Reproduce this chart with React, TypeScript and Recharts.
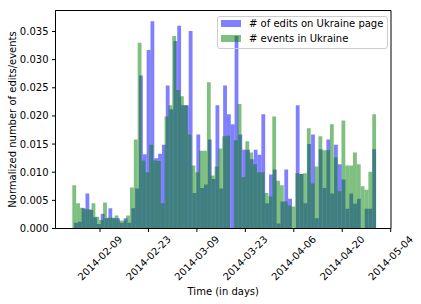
import React from 'react';
import { BarChart, Bar, XAxis, YAxis, ReferenceArea, Label } from 'recharts';

// days counted from 2014-02-01
const TICK_DAYS = [8, 22, 36, 50, 64, 78, 92];
const TICK_LABELS = ['2014-02-09', '2014-02-23', '2014-03-09', '2014-03-23', '2014-04-06', '2014-04-20', '2014-05-04'];
const Y_TICKS = [0, 0.005, 0.01, 0.015, 0.02, 0.025, 0.03, 0.035];

// normalized histogram heights, 79 bins each
const EVENTS = [
  0.0077, 0.0045, 0.0037, 0.0034, 0.0034, 0.0045, 0.0021, 0.0015, 0.0046, 0.0019,
  0.0019, 0.0023, 0.0014, 0.0014, 0.0023, 0.0073, 0.0158, 0.0330, 0.0121, 0.0100,
  0.0149, 0.0121, 0.0120, 0.0045, 0.0199, 0.0219, 0.0342, 0.0246, 0.0235, 0.0219,
  0.0167, 0.0112, 0.0100, 0.0138, 0.0138, 0.0260, 0.0094, 0.0110, 0.0142, 0.0164,
  0.0165, 0.0000, 0.0157, 0.0221, 0.0091, 0.0155, 0.0135, 0.0114, 0.0100, 0.0100,
  0.0063, 0.0057, 0.0199, 0.0085, 0.0077, 0.0048, 0.0041, 0.0039, 0.0098, 0.0097,
  0.0098, 0.0178, 0.0080, 0.0110, 0.0164, 0.0139, 0.0139, 0.0185, 0.0126, 0.0066,
  0.0192, 0.0112, 0.0112, 0.0135, 0.0114, 0.0075, 0.0069, 0.0101, 0.0203,
];
const EDITS = [
  0.0010, 0.0012, 0.0036, 0.0062, 0.0033, 0.0020, 0.0008, 0.0026, 0.0018, 0.0036,
  0.0018, 0.0018, 0.0010, 0.0018, 0.0010, 0.0036, 0.0071, 0.0272, 0.0132, 0.0317,
  0.0368, 0.0125, 0.0133, 0.0149, 0.0254, 0.0212, 0.0333, 0.0360, 0.0219, 0.0219,
  0.0351, 0.0063, 0.0167, 0.0072, 0.0078, 0.0158, 0.0088, 0.0219, 0.0071, 0.0254,
  0.0203, 0.0185, 0.0342, 0.0167, 0.0140, 0.0140, 0.0123, 0.0140, 0.0131, 0.0203,
  0.0045, 0.0096, 0.0105, 0.0009, 0.0048, 0.0105, 0.0053, 0.0000, 0.0219, 0.0097,
  0.0045, 0.0150, 0.0167, 0.0018, 0.0141, 0.0072, 0.0158, 0.0062, 0.0149, 0.0114,
  0.0087, 0.0035, 0.0062, 0.0044, 0.0053, 0.0000, 0.0035, 0.0035, 0.0141,
];

// histogram ranges in days
const EVENTS_RANGE = [0, 87.78];
const EDITS_RANGE = [0.49, 87.78];

const X_DOMAIN = [-4.86, 92.09];
const Y_MAX = 0.03873;

const W = 421;
const H = 304;
const MARGIN = { top: 10.5, right: 30, bottom: 0, left: 0.5 };
const Y_AXIS_W = 55;
const FONT = 'DejaVu Sans';

const plotW = W - MARGIN.left - MARGIN.right - Y_AXIS_W;
const pxPerDay = plotW / (X_DOMAIN[1] - X_DOMAIN[0]);
const eventsBin = (EVENTS_RANGE[1] - EVENTS_RANGE[0]) / EVENTS.length;
const editsBin = (EDITS_RANGE[1] - EDITS_RANGE[0]) / EDITS.length;

const rows = EVENTS.map((v, i) => ({
  tg: EVENTS_RANGE[0] + (i + 0.5) * eventsBin,
  events: v,
  tb: EDITS_RANGE[0] + (i + 0.5) * editsBin,
  edits: EDITS[i],
}));

const XTick = (props: any) => {
  const { x, payload } = props;
  const label = TICK_LABELS[TICK_DAYS.indexOf(payload.value)];
  return (
    <text
      transform={`translate(${x},258) rotate(-45)`}
      textAnchor="middle"
      dominantBaseline="central"
      fontSize={10}
      fontFamily={FONT}
      fill="#000"
    >
      {label}
    </text>
  );
};

const legendRow = (top: number, color: string, text: string) => (
  <>
    <div style={{ position: 'absolute', left: 3.5, top, width: 20, height: 7, background: color }} />
    <div
      style={{
        position: 'absolute',
        left: 31.5,
        top: top - 3,
        fontSize: 10,
        lineHeight: '13px',
        fontFamily: FONT,
        whiteSpace: 'nowrap',
        color: '#000',
      }}
    >
      {text}
    </div>
  </>
);

export default function App() {
  return (
    <div style={{ position: 'absolute', left: 0, top: 0, width: W, height: H, background: '#fff' }}>
      <BarChart width={W} height={H} data={rows} margin={MARGIN} barCategoryGap={0} barGap={0}>
        <XAxis xAxisId="g" type="number" dataKey="tg" domain={X_DOMAIN} allowDataOverflow hide height={0} />
        <XAxis xAxisId="b" type="number" dataKey="tb" domain={X_DOMAIN} allowDataOverflow hide height={0} />
        <XAxis
          xAxisId="t"
          type="number"
          dataKey="tg"
          domain={X_DOMAIN}
          allowDataOverflow
          ticks={TICK_DAYS}
          interval={0}
          height={H - 228.5 - MARGIN.bottom}
          tickSize={3.5}
          axisLine={{ stroke: '#000' }}
          tickLine={{ stroke: '#000' }}
          tick={<XTick />}
        >
          <Label
            content={() => (
              <text x={223.25} y={295} textAnchor="middle" fontSize={10} fontFamily={FONT} fill="#000">
                Time (in days)
              </text>
            )}
          />
        </XAxis>
        <YAxis
          type="number"
          domain={[0, Y_MAX]}
          allowDataOverflow
          ticks={Y_TICKS}
          interval={0}
          width={Y_AXIS_W}
          tickSize={3.5}
          tickMargin={3.5}
          tickFormatter={(v: number) => v.toFixed(3)}
          tick={{ fontSize: 10, fontFamily: FONT, fill: '#000' }}
          axisLine={{ stroke: '#000' }}
          tickLine={{ stroke: '#000' }}
        >
          <Label
            content={() => (
              <text
                transform="translate(12,119.5) rotate(-90)"
                textAnchor="middle"
                dominantBaseline="central"
                fontSize={10}
                fontFamily={FONT}
                fill="#000"
              >
                Normalized number of edits/events
              </text>
            )}
          />
        </YAxis>
        <Bar
          xAxisId="b"
          dataKey="edits"
          fill="#0000ff"
          fillOpacity={0.5}
          barSize={editsBin * pxPerDay - 0.01}
          isAnimationActive={false}
        />
        <Bar
          xAxisId="g"
          dataKey="events"
          fill="#008000"
          fillOpacity={0.5}
          barSize={eventsBin * pxPerDay - 0.01}
          isAnimationActive={false}
        />
        <ReferenceArea
          xAxisId="t"
          x1={X_DOMAIN[0]}
          x2={X_DOMAIN[1]}
          y1={0}
          y2={Y_MAX}
          fill="none"
          stroke="#000"
          strokeWidth={1}
          ifOverflow="visible"
        />
      </BarChart>
      <div
        style={{
          position: 'absolute',
          left: 216.5,
          top: 15.5,
          width: 171,
          height: 33,
          boxSizing: 'border-box',
          border: '1px solid #cccccc',
          borderRadius: 3,
        }}
      >
        {legendRow(3.5, 'rgba(0,0,255,0.5)', '# of edits on Ukraine page')}
        {legendRow(18.5, 'rgba(0,128,0,0.5)', '# events in Ukraine')}
      </div>
    </div>
  );
}
